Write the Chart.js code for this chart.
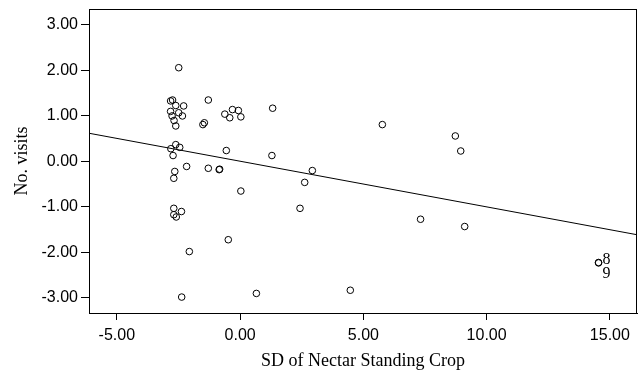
<!DOCTYPE html>
<html>
<head>
<meta charset="utf-8">
<script src="https://cdn.jsdelivr.net/npm/chart.js@4"></script>
<style>
  html, body { margin: 0; padding: 0; background: #fff; }
  #wrap { width: 642px; height: 372px; }
</style>
</head>
<body>
<div id="wrap"><canvas id="chart" width="642" height="372"></canvas></div>
<script>
/* Scatter of visits vs SD of nectar standing crop, with fit line */

var X_TICKS = [-5, 0, 5, 10, 15];
var Y_TICKS = [-3, -2, -1, 0, 1, 2, 3];

var SD_CROP = [
  -2.49, -2.82, -2.74, -2.61, -2.29, -2.82, -2.49, -2.76, -2.34, -2.68,
  -2.61, -1.29, -1.45, -1.51, -0.62, -0.42, -0.31, -0.07, 0.03, -2.61,
  -2.81, -2.45, -2.72, -0.56, -2.17, -2.65, -2.69, -1.29, -0.85, -0.83,
  0.03, -2.69, -2.69, -2.59, -2.38, -0.48, -2.06, -2.37, 0.66, 1.32,
  5.77, 1.29, 2.93, 2.62, 2.43, 7.32, 4.47, 8.73, 8.95, 9.11,
  14.54, 14.54
];
var VISITS = [
  2.06, 1.33, 1.35, 1.23, 1.22, 1.10, 1.07, 1.00, 1.00, 0.90,
  0.78, 1.35, 0.85, 0.81, 1.04, 0.96, 1.14, 1.12, 0.98, 0.37,
  0.28, 0.31, 0.13, 0.24, -0.11, -0.22, -0.37, -0.15, -0.18, -0.17,
  -0.65, -1.03, -1.17, -1.22, -1.10, -1.72, -1.98, -2.98, -2.90, 1.17,
  0.81, 0.13, -0.20, -0.46, -1.03, -1.27, -2.83, 0.56, 0.23, -1.43,
  -2.22, -2.23
];

// case labels shown next to the outlying points
var CASE_LABELS = [
  { index: 50, text: '8' },
  { index: 51, text: '9' }
];

var FIT_X = [-6.13, 16.1];
var FIT_Y = [0.62, -1.61];

var X_MIN = -6.13, X_MAX = 16.1;
var Y_MIN = -3.33, Y_MAX = 3.35;

function toPoints(xs, ys) {
  return xs.map(function(x, i) { return { x: x, y: ys[i] }; });
}

var frameBox = {
  id: 'frameBox',
  afterDatasetsDraw: function(chart) {
    var a = chart.chartArea, ctx = chart.ctx;
    ctx.save();
    ctx.strokeStyle = '#000';
    ctx.lineWidth = 1;
    ctx.strokeRect(Math.round(a.left) + 0.5, Math.round(a.top) + 0.5,
      Math.round(a.right - a.left) - 1, Math.round(a.bottom - a.top));
    ctx.restore();
  }
};

var caseLabels = {
  id: 'caseLabels',
  afterDatasetsDraw: function(chart) {
    var meta = chart.getDatasetMeta(0);
    var ctx = chart.ctx;
    ctx.save();
    ctx.fillStyle = '#000';
    ctx.font = '16px "Liberation Serif", "Times New Roman", serif';
    ctx.textAlign = 'left';
    ctx.textBaseline = 'middle';
    CASE_LABELS.forEach(function(l, k) {
      var el = meta.data[l.index];
      if (!el) return;
      ctx.fillText(l.text, el.x + 4, el.y + (k === 0 ? -3 : 11));
    });
    ctx.restore();
  }
};

var tickFont = { family: 'Arial, "Liberation Sans", Helvetica, sans-serif', size: 16 };
var titleFont = { family: '"Times New Roman", "Liberation Serif", serif', size: 18 };

new Chart(document.getElementById('chart').getContext('2d'), {
  type: 'scatter',
  data: {
    datasets: [
      {
        data: toPoints(SD_CROP, VISITS),
        pointStyle: 'circle',
        pointRadius: 3.3,
        pointBorderWidth: 1,
        pointBorderColor: '#000',
        pointBackgroundColor: 'rgba(255,255,255,0)',
        showLine: false
      },
      {
        type: 'line',
        data: toPoints(FIT_X, FIT_Y),
        borderColor: '#000',
        borderWidth: 1,
        pointRadius: 0,
        fill: false
      }
    ]
  },
  options: {
    responsive: false,
    animation: false,
    layout: { padding: { left: 0, right: 2, top: 9, bottom: 0 } },
    plugins: {
      legend: { display: false },
      tooltip: { enabled: false }
    },
    scales: {
      x: {
        type: 'linear',
        min: X_MIN,
        max: X_MAX,
        afterBuildTicks: function(s) { s.ticks = X_TICKS.map(function(v) { return { value: v }; }); },
        afterFit: function(s) { s.height = 59; s.paddingLeft = 0; s.paddingRight = 0; },
        grid: { drawOnChartArea: false, drawTicks: true, tickLength: 7, color: '#000' },
        border: { display: true, color: '#000', width: 1 },
        ticks: {
          color: '#000',
          font: tickFont,
          padding: 6,
          maxRotation: 0,
          callback: function(v) { return Number(v).toFixed(2); }
        },
        title: {
          display: true,
          text: 'SD of Nectar Standing Crop',
          color: '#000',
          font: titleFont,
          padding: { top: 0, bottom: 0 }
        }
      },
      y: {
        type: 'linear',
        min: Y_MIN,
        max: Y_MAX,
        afterBuildTicks: function(s) { s.ticks = Y_TICKS.map(function(v) { return { value: v }; }); },
        afterFit: function(s) { s.width = 89; s.paddingTop = 0; s.paddingBottom = 0; },
        grid: { drawOnChartArea: false, drawTicks: true, tickLength: 8, color: '#000' },
        border: { display: true, color: '#000', width: 1 },
        ticks: {
          color: '#000',
          font: tickFont,
          padding: 3,
          callback: function(v) { return Number(v).toFixed(2); }
        },
        title: {
          display: true,
          text: 'No. visits',
          color: '#000',
          font: titleFont,
          padding: { top: 11, bottom: 0 }
        }
      }
    }
  },
  plugins: [frameBox, caseLabels]
});
</script>
</body>
</html>
